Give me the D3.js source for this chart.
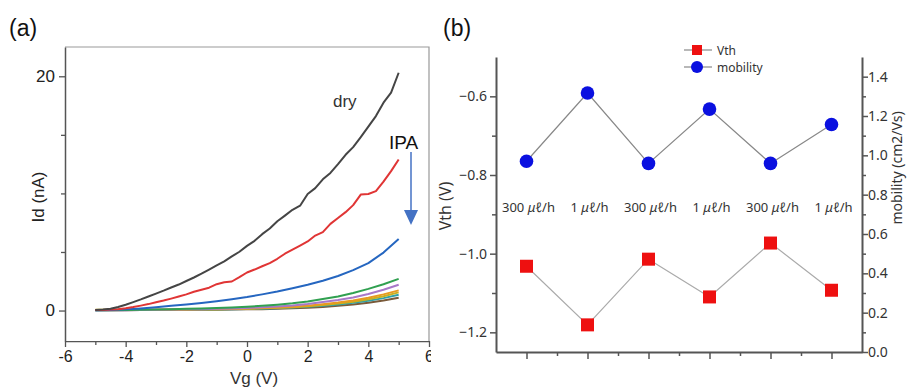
<!DOCTYPE html>
<html><head><meta charset="utf-8">
<script src="https://cdn.jsdelivr.net/npm/d3@7"></script>
<style>
body{margin:0;background:#fff;}
svg{display:block;font-family:"Liberation Sans",Arial,sans-serif;}
</style></head>
<body><svg id="c" width="907" height="387"></svg>
<script>
// ---------- Panel (a) data ----------
const vgFine = d3.range(-5, 5.001, 0.25);
const vgCoarse = d3.range(-5, 5.001, 0.5);
const idDry = [0.05,0.08,0.15,0.3,0.5,0.72,0.95,1.2,1.45,1.7,1.97,2.22,2.52,2.82,3.15,3.5,3.86,4.2,4.62,5.02,5.52,5.95,6.52,7.0,7.62,8.1,8.6,8.95,9.95,10.45,11.2,11.75,12.5,13.3,13.95,14.8,15.7,16.6,17.75,18.6,20.3];
const idRed = [0.05,0.05,0.08,0.12,0.2,0.3,0.42,0.55,0.7,0.85,1.02,1.2,1.38,1.6,1.78,1.95,2.25,2.42,2.48,2.85,3.25,3.5,3.78,4.05,4.42,4.85,5.2,5.55,5.9,6.4,6.7,7.4,7.9,8.4,9.0,9.9,9.95,10.2,11.0,11.9,12.9];
const idBlue = [0.02,0.05,0.1,0.18,0.28,0.4,0.52,0.65,0.8,0.97,1.15,1.38,1.62,1.9,2.2,2.55,2.95,3.45,4.05,4.95,6.1];
const idGreen = [0.02,0.03,0.05,0.07,0.09,0.12,0.15,0.18,0.22,0.26,0.32,0.4,0.5,0.62,0.78,0.98,1.2,1.5,1.85,2.25,2.7];
const idPurple = [0.02,0.02,0.03,0.04,0.06,0.08,0.1,0.12,0.15,0.18,0.22,0.28,0.35,0.44,0.56,0.72,0.9,1.12,1.42,1.78,2.2];
const idOrange = [0.05,0.05,0.06,0.06,0.07,0.08,0.09,0.1,0.12,0.14,0.17,0.21,0.26,0.33,0.42,0.54,0.68,0.86,1.1,1.38,1.72];
const idYellow = [0.06,0.06,0.06,0.07,0.07,0.08,0.09,0.1,0.11,0.13,0.15,0.19,0.23,0.29,0.37,0.47,0.6,0.76,0.97,1.22,1.55];
const idTeal = [0.04,0.04,0.04,0.05,0.05,0.06,0.07,0.08,0.09,0.11,0.13,0.16,0.2,0.25,0.32,0.41,0.52,0.66,0.84,1.06,1.35];
const idBrown = [0.03,0.03,0.03,0.04,0.04,0.05,0.05,0.06,0.07,0.08,0.1,0.12,0.15,0.19,0.24,0.31,0.4,0.51,0.66,0.85,1.1];
const xTicksA = [-6,-4,-2,0,2,4,6];
const yTicksA = [0,20];

// ---------- Panel (b) data ----------
const conditions = ["300","1","300","1","300","1"];
const vth = [-1.032,-1.181,-1.014,-1.110,-0.973,-1.093];
const mobility = [0.97,1.317,0.959,1.235,0.959,1.157];
const vthTicks = [-0.6,-0.8,-1.0,-1.2];
const mobTicks = [0,0.2,0.4,0.6,0.8,1.0,1.2,1.4];

const svg = d3.select("#c");

// ================= Panel (a) =================
const xA = d3.scaleLinear([-6,6],[65,429]);
const yA = d3.scaleLinear([-2.6,22.5],[341,47]);

svg.append("text").attr("x",9).attr("y",36).attr("font-size",23).attr("fill","#111").text("(a)");

// frame top/right
svg.append("path").attr("d",`M${xA(-6)},${yA(22.5)}H${xA(6)}V${yA(-2.6)}`)
  .attr("fill","none").attr("stroke","#999").attr("stroke-width",1.2);

const series = [
  {v:idBrown,x:vgCoarse,c:"#7a5a3a"},
  {v:idTeal,x:vgCoarse,c:"#30a0a8"},
  {v:idYellow,x:vgCoarse,c:"#c8b020"},
  {v:idOrange,x:vgCoarse,c:"#e89a20"},
  {v:idPurple,x:vgCoarse,c:"#a878c8"},
  {v:idGreen,x:vgCoarse,c:"#30a050"},
  {v:idBlue,x:vgCoarse,c:"#2566c0"},
  {v:idRed,x:vgFine,c:"#e03535"},
  {v:idDry,x:vgFine,c:"#454545"}
];
const lineA = d3.line().x(d=>xA(d[0])).y(d=>yA(d[1]));
series.forEach(s=>{
  svg.append("path").datum(s.v.map((v,i)=>[s.x[i],v]))
    .attr("d",lineA).attr("fill","none").attr("stroke",s.c).attr("stroke-width",2).attr("stroke-linejoin","round");
});

// x axis (a)
svg.append("clipPath").attr("id","clipA").append("rect").attr("x",0).attr("y",0).attr("width",431).attr("height",387);
const gxA = svg.append("g").attr("transform",`translate(0,${yA(-2.6)})`).attr("clip-path","url(#clipA)");
gxA.call(d3.axisBottom(xA).tickValues(d3.range(-6,6.1,1)).tickSize(5).tickSizeOuter(0)
  .tickFormat(d=>xTicksA.includes(d)?String(d):""));
gxA.select(".domain").attr("stroke","#555").attr("stroke-width",1.5);
gxA.selectAll(".tick line").attr("stroke","#555").attr("stroke-width",1.3)
  .attr("y2",d=>xTicksA.includes(d)?6:4);
gxA.selectAll(".tick text").attr("font-size",16).attr("fill","#222").attr("y",10)
  .attr("font-family","Liberation Sans, Arial, sans-serif");
// y axis (a)
const gyA = svg.append("g").attr("transform",`translate(${xA(-6)},0)`);
gyA.call(d3.axisLeft(yA).tickValues([0,5,10,15,20]).tickSize(5).tickSizeOuter(0)
  .tickFormat(d=>yTicksA.includes(d)?String(d):""));
gyA.select(".domain").attr("stroke","#555").attr("stroke-width",1.5);
gyA.selectAll(".tick line").attr("stroke","#555").attr("stroke-width",1.3)
  .attr("x2",d=>yTicksA.includes(d)?-6:-4);
gyA.selectAll(".tick text").attr("font-size",17).attr("fill","#222").attr("x",-10)
  .attr("font-family","Liberation Sans, Arial, sans-serif");

svg.append("text").attr("transform","translate(44,197) rotate(-90)").attr("text-anchor","middle")
  .attr("font-size",17).attr("fill","#222").text("Id (nA)");
svg.append("text").attr("x",254).attr("y",384).attr("text-anchor","middle")
  .attr("font-size",17).attr("fill","#333").text("Vg (V)");

svg.append("text").attr("x",333).attr("y",107).attr("font-size",17).attr("fill","#333").text("dry");
svg.append("text").attr("x",389).attr("y",149).attr("font-size",19).attr("fill","#111").text("IPA");
svg.append("line").attr("x1",411).attr("x2",411).attr("y1",152).attr("y2",212)
  .attr("stroke","#4472c4").attr("stroke-width",1.5);
svg.append("path").attr("d","M404,210L418,210L411,225Z").attr("fill","#4472c4");

// ================= Panel (b) =================
const xB = d3.scaleLinear([-0.5,5.5],[496,862]);
const yL = d3.scaleLinear([-1.25,-0.5],[352,57]);
const yR = d3.scaleLinear([0,1.5],[352,57]);

svg.append("text").attr("x",443).attr("y",36).attr("font-size",23).attr("fill","#111").text("(b)");

const fmtMinus = d=>d3.format(".1f")(d).replace("-","\u2212");
const bFont = "'Noto Sans', 'Liberation Sans', sans-serif";

// left axis
const gL = svg.append("g").attr("transform",`translate(${xB(-0.5)},0)`);
gL.call(d3.axisLeft(yL).tickValues([-0.6,-0.7,-0.8,-0.9,-1.0,-1.1,-1.2]).tickSize(6).tickSizeOuter(0)
  .tickFormat(d=>vthTicks.some(t=>Math.abs(t-d)<1e-9)?fmtMinus(d):""));
gL.selectAll(".tick line").attr("x2",d=>vthTicks.some(t=>Math.abs(t-d)<1e-9)?-6:-4);
// right axis
const gR = svg.append("g").attr("transform",`translate(${xB(5.5)},0)`);
gR.call(d3.axisRight(yR).tickValues(d3.range(0,1.41,0.1)).tickSize(6).tickSizeOuter(0)
  .tickFormat(d=>mobTicks.some(t=>Math.abs(t-d)<1e-9)?d3.format(".1f")(d):""));
gR.selectAll(".tick line").attr("x2",d=>mobTicks.some(t=>Math.abs(t-d)<1e-9)?6:4);
// bottom axis
const gB = svg.append("g").attr("transform",`translate(0,${yL(-1.25)})`);
gB.call(d3.axisBottom(xB).tickValues(d3.range(0,5.01,0.5)).tickSize(7).tickSizeOuter(0).tickFormat(""));
gB.selectAll(".tick line").attr("y2",d=>Number.isInteger(d)?7:4);

[gL,gR,gB].forEach(g=>{
  g.select(".domain").attr("stroke","#555").attr("stroke-width",2);
  g.selectAll(".tick line").attr("stroke","#555").attr("stroke-width",1.5);
  g.selectAll(".tick text").attr("font-size",14).attr("fill","#333").attr("font-family",bFont);
});
gL.selectAll(".tick text").attr("x",-9);
gR.selectAll(".tick text").attr("x",6);

// lines
const lineM = d3.line().x((d,i)=>xB(i)).y(d=>yR(d));
const lineV = d3.line().x((d,i)=>xB(i)).y(d=>yL(d));
svg.append("path").datum(mobility).attr("d",lineM).attr("fill","none").attr("stroke","#888").attr("stroke-width",1.2);
svg.append("path").datum(vth).attr("d",lineV).attr("fill","none").attr("stroke","#aaa").attr("stroke-width",1.2);
svg.selectAll(".mob").data(mobility).join("circle").attr("cx",(d,i)=>xB(i)).attr("cy",d=>yR(d)).attr("r",6.8).attr("fill","#0a10e0");
svg.selectAll(".vth").data(vth).join("rect").attr("x",(d,i)=>xB(i)-6.5).attr("y",d=>yL(d)-6.5)
  .attr("width",13).attr("height",13).attr("fill","#ee1010");

// condition labels
conditions.forEach((c,i)=>{
  const t = svg.append("text").attr("x",xB(i)+2).attr("y",212).attr("text-anchor","middle")
    .attr("font-size",13).attr("fill","#333").attr("font-family",bFont);
  t.append("tspan").text(c+" ");
  t.append("tspan").attr("font-style","italic").text("\u03bc\u2113");
  t.append("tspan").text("/h");
});

// axis titles
svg.append("text").attr("transform","translate(451,206) rotate(-90)").attr("text-anchor","middle")
  .attr("font-size",16).attr("fill","#333").attr("font-family",bFont).text("Vth (V)");
svg.append("text").attr("transform","translate(902,168) rotate(-90)").attr("text-anchor","middle")
  .attr("font-size",14).attr("fill","#333").attr("font-family",bFont).text("mobility (cm2/Vs)");

// legend
svg.append("line").attr("x1",684).attr("x2",712).attr("y1",50).attr("y2",50).attr("stroke","#888").attr("stroke-width",1.2);
svg.append("rect").attr("x",692).attr("y",45).attr("width",10).attr("height",10).attr("fill","#ee1010");
svg.append("text").attr("x",717).attr("y",55).attr("font-size",12).attr("fill","#333").attr("font-family",bFont).text("Vth");
svg.append("line").attr("x1",684).attr("x2",712).attr("y1",67).attr("y2",67).attr("stroke","#888").attr("stroke-width",1.2);
svg.append("circle").attr("cx",697).attr("cy",67).attr("r",6).attr("fill","#0a10e0");
svg.append("text").attr("x",717).attr("y",72).attr("font-size",12).attr("fill","#333").attr("font-family",bFont).text("mobility");
</script></body></html>
